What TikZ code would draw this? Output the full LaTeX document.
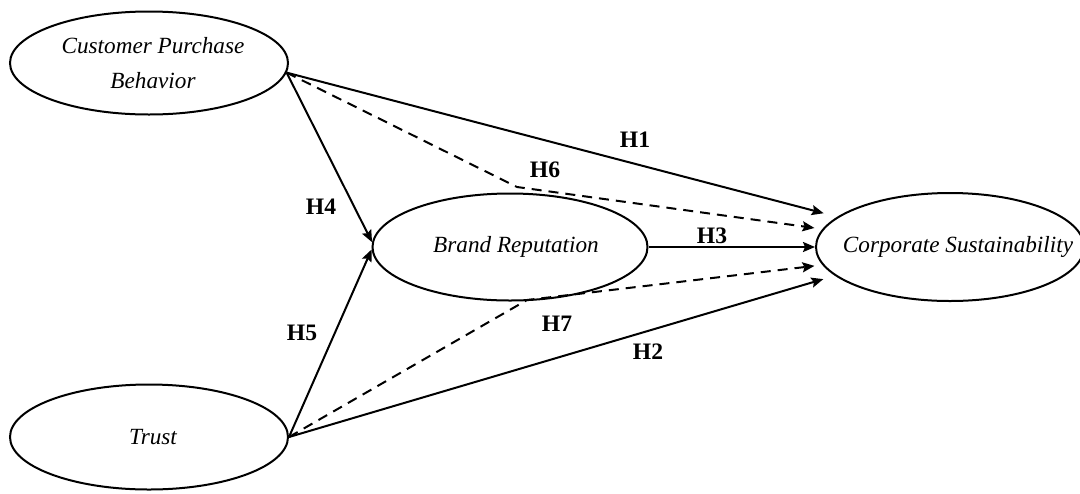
\documentclass[tikz,border=0pt]{standalone}
\usepackage{fontspec}
\setmainfont{Liberation Serif}
\usepackage{tikz}
\usetikzlibrary{shapes.geometric, arrows.meta}
\usetikzlibrary{calc,positioning}

\tikzset{
    construct/.style={draw, ellipse, line width=1pt, inner sep=0pt},
    conlabel/.style={font=\fontsize{11.6}{17.5}\selectfont\itshape, align=center},
    hyp/.style={font=\fontsize{11.8}{13}\selectfont\bfseries},
    effect/.style={-{Stealth[length=6pt,width=5pt,inset=1pt]}, line width=1pt},
    mediated/.style={effect, dash pattern=on 5pt off 3.5pt},
}

\begin{document}
\begin{tikzpicture}[x=0.5pt, y=-0.5pt]

    \useasboundingbox (0,0) rectangle (1080,493);

    % Constructs
    \node[construct, minimum width=139pt, minimum height=51.5pt,
          label={[conlabel, xshift=2pt]center:Customer Purchase\\Behavior}] (cpb) at (149,63) {};
    \node[construct, minimum width=139pt, minimum height=52.5pt,
          label={[conlabel, xshift=2pt]center:Trust}] (trust) at (149,437) {};
    \node[construct, minimum width=137.5pt, minimum height=53.5pt,
          label={[conlabel, xshift=3pt]center:Brand Reputation}] (brand) at (510,247) {};
    \node[construct, minimum width=134pt, minimum height=54pt,
          label={[conlabel, xshift=4pt]center:Corporate Sustainability}] (csr) at (950,247) {};

    % Bends of the indirect paths
    \coordinate (h6bend) at (517,187);
    \coordinate (h7bend) at (527,300);

    % Direct paths
    \draw[effect, shorten >=7pt] (cpb.-4) -- (csr.165);
    \draw[effect, shorten >=6pt] (trust.east) -- (csr.194);
    \draw[effect] (brand.east) -- (csr.west);
    \draw[effect] (cpb.-4) -- (brand.178);
    \draw[effect] (trust.east) -- (brand.181);

    % Indirect paths
    \draw[mediated, shorten >=4pt] (cpb.-4) -- (h6bend) -- (csr.172);
    \draw[mediated, shorten >=4pt] (trust.east) -- (h7bend) -- (csr.188);

    % Hypotheses
    \foreach \n/\x/\y in {1/635/140, 2/648/352, 3/712/236, 4/321/207,
                          5/302/333, 6/545/170, 7/557/324} {
        \node[hyp] (h\n) at (\x,\y) {H\n};
    }

\end{tikzpicture}
\end{document}
